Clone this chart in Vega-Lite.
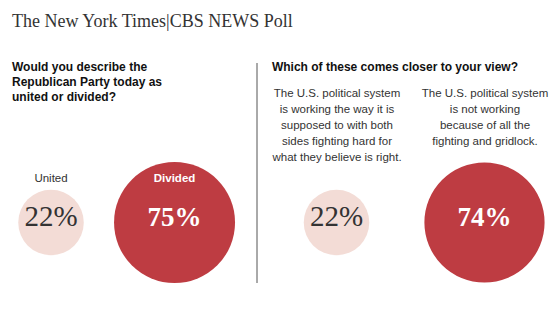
{
  "$schema": "https://vega.github.io/schema/vega-lite/v6.json",
  "padding": {"left": 12, "top": 12, "right": 2, "bottom": 2},
  "background": "white",
  "config": {"view": {"stroke": null}, "font": "Liberation Sans"},
  "title": {"text": "The New York Times|CBS NEWS Poll", "anchor": "start", "font": "Liberation Serif", "fontSize": 18, "fontWeight": "normal", "color": "#333333", "offset": 30},
  "spacing": 13,
  "hconcat": [
    {
      "width": 231,
      "height": 220,
      "title": {"text": ["Would you describe the", "Republican Party today as", "united or divided?"], "anchor": "start", "font": "Liberation Sans", "fontSize": 12, "fontWeight": "bold", "color": "#111111", "lineHeight": 15, "offset": -40.5},
      "data": {"values": [
        {"question": "Would you describe the Republican Party today as united or divided?", "answer": "United", "share": 0.22},
        {"question": "Would you describe the Republican Party today as united or divided?", "answer": "Divided", "share": 0.75}
      ]},
      "encoding": {
        "x": {"field": "answer", "type": "nominal", "sort": null, "scale": {"type": "point", "padding": 0.435, "align": 0.363}, "axis": null},
        "y": {"field": "question", "type": "nominal", "scale": {"type": "point", "align": 0.725}, "axis": null}
      },
      "layer": [
        {"mark": {"type": "circle", "opacity": 1}, "encoding": {"size": {"field": "share", "type": "quantitative", "scale": {"domain": [0, 1], "range": [0, 19521]}, "legend": null}, "color": {"condition": {"test": "datum.share > 0.5", "value": "#be3c42"}, "value": "#f3dcd6"}}},
        {"transform": [{"filter": "datum.share < 0.5"}], "mark": {"type": "text", "font": "Liberation Serif", "fontSize": 29, "baseline": "alphabetic", "dy": 3, "color": "#333333"}, "encoding": {"text": {"field": "share", "type": "quantitative", "format": ".0%"}}},
        {"transform": [{"filter": "datum.share > 0.5"}], "mark": {"type": "text", "font": "Liberation Serif", "fontSize": 27, "fontWeight": "bold", "baseline": "alphabetic", "dy": 3, "color": "#ffffff"}, "encoding": {"text": {"field": "share", "type": "quantitative", "format": ".0%"}}},
        {"transform": [{"filter": "datum.share < 0.5"}], "mark": {"type": "text", "font": "Liberation Sans", "fontSize": 11.5, "baseline": "alphabetic", "dy": -41, "color": "#333333"}, "encoding": {"text": {"field": "answer", "type": "nominal"}}},
        {"transform": [{"filter": "datum.share > 0.5"}], "mark": {"type": "text", "font": "Liberation Sans", "fontSize": 11.5, "fontWeight": "bold", "baseline": "alphabetic", "dy": -41, "color": "#ffffff"}, "encoding": {"text": {"field": "answer", "type": "nominal"}}}
      ]
    },
    {
      "width": 1,
      "height": 220,
      "data": {"values": [{"divider": "panels"}]},
      "mark": {"type": "rule", "color": "#555555", "strokeWidth": 1},
      "encoding": {"x": {"value": 0}}
    },
    {
      "width": 277,
      "height": 220,
      "title": {"text": "Which of these comes closer to your view?", "anchor": "start", "font": "Liberation Sans", "fontSize": 12, "fontWeight": "bold", "color": "#111111", "offset": -10.5},
      "data": {"values": [
        {"question": "Which of these comes closer to your view?", "view": "The U.S. political system\nis working the way it is\nsupposed to with both\nsides fighting hard for\nwhat they believe is right.", "share": 0.22},
        {"question": "Which of these comes closer to your view?", "view": "The U.S. political system\nis not working\nbecause of all the\nfighting and gridlock.", "share": 0.74}
      ]},
      "encoding": {
        "x": {"field": "view", "type": "nominal", "sort": null, "scale": {"type": "point", "padding": 0.436}, "axis": {"orient": "top", "title": null, "domain": false, "ticks": false, "labelPadding": -24.5, "labelBaseline": "top", "labelAngle": 0, "labelFont": "Liberation Sans", "labelFontSize": 11.5, "labelColor": "#333333", "labelLineHeight": 16, "labelLimit": 0, "labelOverlap": false, "labelFlush": false, "labelExpr": "split(datum.label, '\\n')"}},
        "y": {"field": "question", "type": "nominal", "scale": {"type": "point", "align": 0.725}, "axis": null}
      },
      "layer": [
        {"mark": {"type": "circle", "opacity": 1}, "encoding": {"size": {"field": "share", "type": "quantitative", "scale": {"domain": [0, 1], "range": [0, 19521]}, "legend": null}, "color": {"condition": {"test": "datum.share > 0.5", "value": "#be3c42"}, "value": "#f3dcd6"}}},
        {"transform": [{"filter": "datum.share < 0.5"}], "mark": {"type": "text", "font": "Liberation Serif", "fontSize": 29, "baseline": "alphabetic", "dy": 3, "color": "#333333"}, "encoding": {"text": {"field": "share", "type": "quantitative", "format": ".0%"}}},
        {"transform": [{"filter": "datum.share > 0.5"}], "mark": {"type": "text", "font": "Liberation Serif", "fontSize": 27, "fontWeight": "bold", "baseline": "alphabetic", "dy": 3, "color": "#ffffff"}, "encoding": {"text": {"field": "share", "type": "quantitative", "format": ".0%"}}}
      ]
    }
  ]
}
